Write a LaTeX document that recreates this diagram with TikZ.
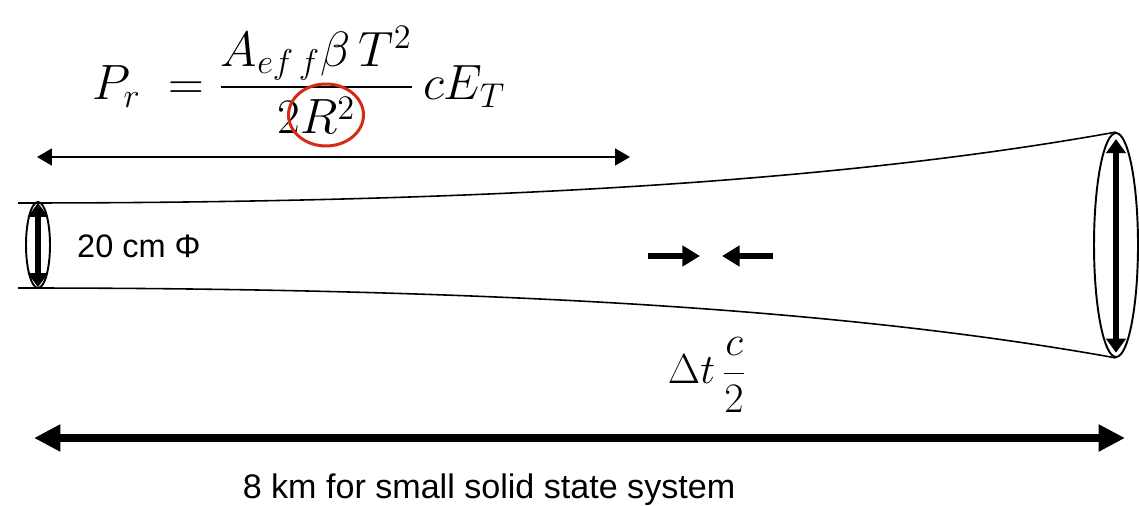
\documentclass[tikz,border=0pt]{standalone}
\usepackage{amsmath}
\usepackage{fontspec}
\setmainfont{Liberation Sans}
\usetikzlibrary{arrows.meta,shapes.geometric}
\definecolor{circred}{RGB}{212,43,22}

\begin{document}
\begin{tikzpicture}[
  x=0.02cm,y=-0.02cm,
  tube/.style={line width=0.9pt},
  ring/.style={draw,ellipse,line width=1.1pt,inner sep=0pt},
  dimarrow/.style={{Triangle[length=8.5pt,width=9.7pt]}-{Triangle[length=8.5pt,width=9.7pt]},line width=0.9pt},
  rangearrow/.style={{Triangle[length=15pt,width=14.5pt]}-{Triangle[length=15pt,width=14.5pt]},line width=4.4pt},
  pulse/.style={-{Triangle[length=10pt,width=11.4pt]},line width=3.6pt},
  beamarrow/.style={{Triangle[length=8pt,width=11pt]}-{Triangle[length=8pt,width=11pt]},line width=3pt},
  txt/.style={font=\fontsize{18.5}{22}\selectfont},
  eq/.style={font=\fontsize{20.74}{24}\selectfont,scale=1.36}
]
  \useasboundingbox (0,0) rectangle (1139,506);
  % radar equation
  \node[eq] (power) at (299,80) {$P_r\;=\dfrac{A_{ef\,f}\beta\, T^2}{2R^2}\,cE_T$};
  \node[draw=circred,ellipse,line width=1.7pt,minimum width=1.5cm,minimum height=1.24cm] (hl) at (326,115) {};
  % range to first echo
  \coordinate (ra) at (37,157);
  \coordinate (rb) at (630,157);
  \draw[dimarrow] (ra) -- (rb);
  % beam cone
  \node[ring,minimum width=0.48cm,minimum height=1.72cm] (lend) at (38,245) {};
  \node[ring,minimum width=0.88cm,minimum height=4.48cm] (rend) at (1116,245) {};
  \coordinate (tl) at (18,203);
  \coordinate (bl) at (18,288);
  \draw[tube] (tl) .. controls (500,203) and (850,180) .. (rend.north);
  \draw[tube] (bl) .. controls (500,288) and (850,310) .. (rend.south);
  \draw[beamarrow,shorten <=1pt,shorten >=1pt] (lend.north) -- (lend.south);
  \draw[beamarrow,shorten <=4pt,shorten >=3pt] (rend.north) -- (rend.south);
  \node[txt,anchor=west] (diam) at (71,246) {20 cm Φ};
  % pulse length
  \coordinate (pa) at (648,256);
  \coordinate (pb) at (700,256);
  \coordinate (pc) at (773,256);
  \coordinate (pd) at (722,256);
  \draw[pulse] (pa) -- (pb);
  \draw[pulse] (pc) -- (pd);
  \node[font=\fontsize{20.74}{24}\selectfont,scale=1.15] (res) at (707,375) {$\Delta t\,\dfrac{c}{2}$};
  % full range
  \coordinate (fa) at (34,438);
  \coordinate (fb) at (1125,438);
  \draw[rangearrow] (fa) -- (fb);
  \node[txt,font=\fontsize{19.4}{23}\selectfont] (range) at (489,490) {8 km for small solid state system};
\end{tikzpicture}
\end{document}
